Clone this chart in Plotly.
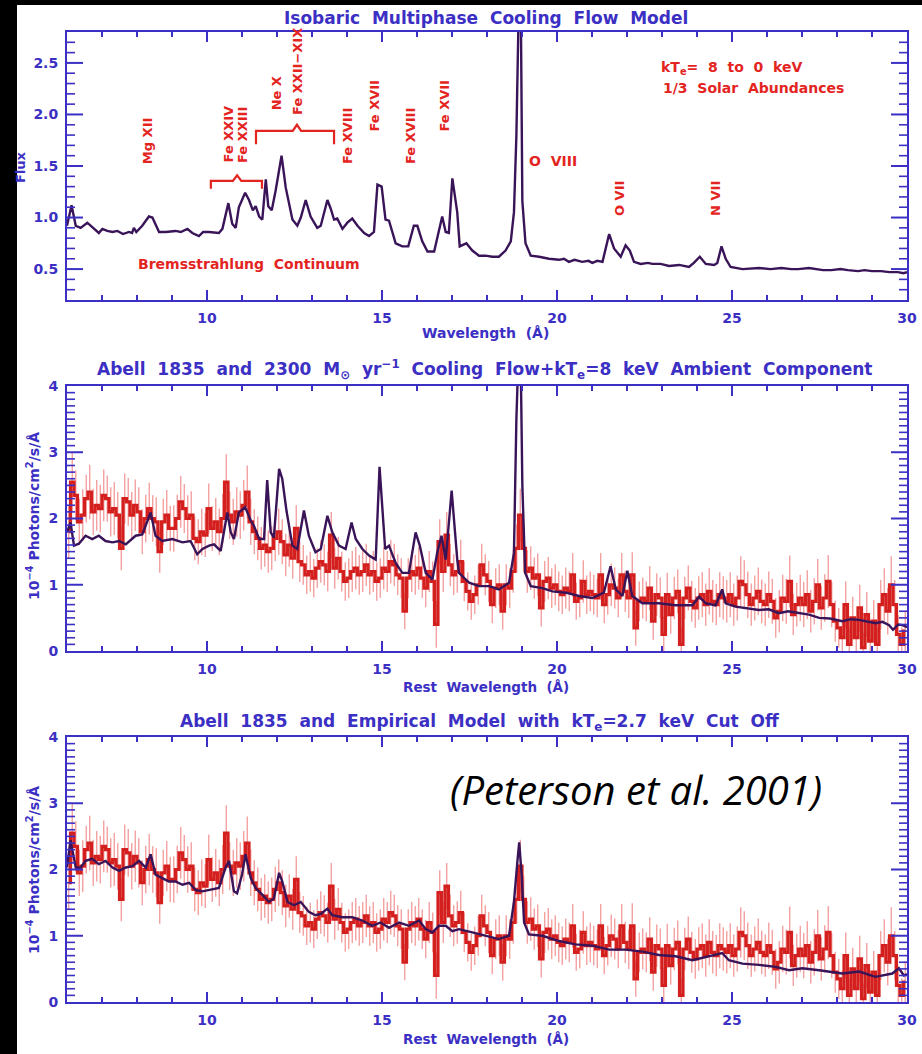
import numpy as np
import plotly.graph_objects as go

W, H = 922, 1054
BLUE = "#3b2fc4"
RED_TXT = "#e3241f"
MODEL = "#3a1458"
DATA = "#d3201e"
ERR = "#f39a9a"
FONT = "DejaVu Sans"
SP = "\u00a0"

# ---------------- data ----------------
# Panel 1: isobaric multiphase cooling-flow model (wavelength [A], flux)
model_top = [(6.00,0.92),(6.13,1.12),(6.25,0.92),(6.39,0.90),(6.58,0.95),(6.77,0.89),(6.91,0.85),(7.01,0.89),
    (7.15,0.87),(7.30,0.86),(7.44,0.87),(7.60,0.84),(7.77,0.86),(7.86,0.85),(7.91,0.90),(7.98,0.86),(8.15,0.92),
    (8.34,1.01),(8.44,1.00),(8.63,0.86),(8.82,0.86),(9.10,0.87),(9.25,0.86),(9.44,0.89),(9.58,0.85),(9.77,0.82),
    (9.89,0.86),(10.06,0.86),(10.34,0.85),(10.44,0.89),(10.61,1.14),(10.72,0.94),(10.82,0.90),(10.91,1.10),
    (11.09,1.24),(11.20,1.17),(11.31,1.07),(11.39,1.11),(11.49,1.01),(11.58,0.98),(11.68,1.37),(11.75,1.11),
    (11.85,1.07),(11.96,1.26),(12.13,1.60),(12.25,1.29),(12.44,0.98),(12.58,0.92),(12.68,1.00),(12.82,1.17),
    (12.96,1.01),(13.15,0.90),(13.25,0.92),(13.44,1.17),(13.53,1.09),(13.63,0.98),(13.72,0.99),(13.87,0.89),
    (14.01,0.95),(14.15,0.99),(14.30,0.92),(14.49,0.85),(14.63,0.82),(14.77,0.86),(14.87,1.32),(14.99,1.30),
    (15.10,0.98),(15.20,0.97),(15.39,0.75),(15.58,0.72),(15.75,0.72),(15.91,0.92),(16.01,0.92),(16.15,0.77),
    (16.30,0.67),(16.49,0.67),(16.61,0.86),(16.72,1.01),(16.82,0.86),(16.91,0.85),(17.01,1.38),(17.15,1.05),
    (17.22,0.72),(17.41,0.75),(17.58,0.68),(17.77,0.63),(17.96,0.63),(18.15,0.62),(18.34,0.62),(18.53,0.68),
    (18.68,0.77),(18.77,1.05),(18.84,1.80),(18.92,3.30),(18.96,3.30),(19.01,1.16),(19.10,0.75),(19.25,0.63),
    (19.49,0.62),(19.77,0.60),(20.06,0.59),(20.20,0.60),(20.34,0.57),(20.50,0.59),(20.72,0.57),(20.90,0.58),
    (21.01,0.56),(21.15,0.58),(21.30,0.57),(21.49,0.84),(21.63,0.70),(21.82,0.62),(21.96,0.73),(22.08,0.68),
    (22.20,0.57),(22.39,0.55),(22.60,0.56),(22.72,0.55),(22.96,0.55),(23.20,0.53),(23.49,0.54),(23.77,0.52),
    (23.91,0.56),(24.08,0.62),(24.25,0.55),(24.49,0.54),(24.58,0.56),(24.70,0.72),(24.82,0.60),(24.96,0.52),
    (25.30,0.50),(25.60,0.51),(25.77,0.51),(26.10,0.50),(26.41,0.51),(26.70,0.50),(26.89,0.50),(27.20,0.51),
    (27.36,0.50),(27.60,0.49),(27.84,0.49),(28.10,0.50),(28.31,0.49),(28.60,0.48),(28.79,0.49),(29.00,0.48),
    (29.26,0.48),(29.50,0.47),(29.74,0.47),(29.90,0.46),(30.00,0.47)]

# Panel 2: 2300 Msun/yr cooling flow + 8 keV ambient model (1e-4 ph/cm2/s/A)
model_cf = [(6.00,1.79),(6.10,1.94),(6.20,1.59),(6.34,1.62),(6.53,1.74),(6.72,1.69),(6.91,1.74),(7.10,1.66),
    (7.30,1.64),(7.49,1.66),(7.68,1.61),(7.87,1.69),(7.96,1.74),(8.15,1.76),(8.39,2.09),(8.53,1.74),(8.72,1.66),
    (9.01,1.69),(9.30,1.64),(9.53,1.66),(9.72,1.46),(9.87,1.54),(10.06,1.59),(10.20,1.61),(10.39,1.51),
    (10.58,2.09),(10.68,1.79),(10.77,1.69),(10.91,2.09),(11.09,2.17),(11.25,1.97),(11.34,1.89),(11.49,1.69),
    (11.63,1.69),(11.72,2.58),(11.82,1.79),(11.91,1.71),(12.06,2.75),(12.15,2.60),(12.27,2.12),(12.44,1.59),
    (12.58,1.54),(12.77,2.12),(12.91,1.74),(13.10,1.49),(13.25,1.54),(13.44,2.04),(13.58,1.79),(13.77,1.59),
    (13.96,1.54),(14.13,1.94),(14.25,1.69),(14.44,1.54),(14.63,1.44),(14.82,1.38),(14.93,2.78),(15.09,1.54),
    (15.20,1.59),(15.39,1.33),(15.58,1.18),(15.77,1.18),(15.96,1.79),(16.08,1.59),(16.25,1.18),(16.44,1.08),
    (16.58,1.49),(16.70,1.74),(16.82,1.38),(16.99,2.42),(17.15,1.38),(17.20,1.18),(17.49,1.03),(17.77,0.98),
    (18.06,0.98),(18.34,0.93),(18.63,1.03),(18.77,1.48),(18.84,3.51),(18.90,4.50),(18.96,4.50),(19.01,2.50),
    (19.09,1.18),(19.25,0.98),(19.58,0.95),(19.87,0.90),(20.25,0.88),(20.63,0.83),(21.01,0.80),(21.34,0.88),
    (21.53,1.28),(21.68,0.93),(21.87,0.83),(22.01,1.21),(22.15,0.83),(22.44,0.72),(22.91,0.72),(23.39,0.69),
    (23.87,0.69),(24.06,0.82),(24.25,0.72),(24.53,0.69),(24.72,0.93),(24.82,0.72),(25.10,0.67),(25.45,0.64),
    (25.77,0.62),(26.05,0.63),(26.34,0.57),(26.60,0.60),(26.91,0.57),(27.20,0.55),(27.49,0.50),(27.80,0.49),
    (28.15,0.45),(28.40,0.48),(28.63,0.47),(28.85,0.45),(29.10,0.42),(29.30,0.44),(29.49,0.39),(29.60,0.32),
    (29.75,0.40),(29.87,0.39),(30.00,0.36)]

# Panel 3: empirical model with 2.7 keV cut-off
model_emp = [(6.00,2.03),(6.10,2.44),(6.25,2.03),(6.39,2.03),(6.53,2.13),(6.72,2.16),(6.91,2.08),(7.10,2.13),
    (7.30,2.03),(7.49,1.98),(7.68,2.03),(7.87,2.05),(8.06,2.13),(8.25,2.03),(8.39,2.23),(8.53,1.92),(8.72,1.87),
    (8.91,1.82),(9.10,1.82),(9.30,1.77),(9.49,1.80),(9.68,1.69),(9.87,1.67),(10.06,1.69),(10.34,1.72),
    (10.53,2.03),(10.63,2.13),(10.77,1.67),(10.86,1.64),(11.00,1.92),(11.10,2.23),(11.25,1.87),(11.39,1.72),
    (11.58,1.62),(11.77,1.51),(11.91,1.56),(12.06,1.95),(12.15,1.82),(12.30,1.51),(12.49,1.46),(12.68,1.51),
    (12.91,1.36),(13.10,1.31),(13.25,1.33),(13.44,1.41),(13.58,1.31),(13.87,1.28),(14.15,1.28),(14.44,1.23),
    (14.72,1.15),(14.96,1.20),(15.20,1.12),(15.49,1.20),(15.77,1.15),(16.06,1.23),(16.25,1.10),(16.44,1.05),
    (16.63,1.15),(16.82,1.15),(17.01,1.07),(17.20,1.10),(17.58,1.05),(17.96,1.00),(18.34,0.95),(18.63,1.00),
    (18.77,1.51),(18.87,2.13),(18.92,2.41),(18.99,1.92),(19.06,1.20),(19.20,1.02),(19.58,1.00),(20.06,0.92),
    (20.53,0.87),(21.01,0.85),(21.49,0.79),(21.96,0.79),(22.44,0.76),(22.91,0.71),(23.39,0.69),(23.87,0.63),
    (24.34,0.69),(24.72,0.74),(24.91,0.63),(25.30,0.58),(25.77,0.56),(26.25,0.53),(26.63,0.48),(27.01,0.51),
    (27.49,0.48),(28.15,0.43),(28.63,0.46),(29.10,0.38),(29.58,0.43),(29.77,0.51),(29.91,0.40),(30.00,0.42)]

# Abell 1835 RGS spectrum, 0.1 A bins from 6.0 to 30.0 A
bin_start, bin_width = 6.0, 0.1
flux_obs = [
    1.80, 2.55, 2.35, 1.95, 2.05, 2.30, 2.40, 2.10, 2.20, 2.15,   # 6-7
    2.35, 2.30, 2.10, 2.15, 2.05, 1.55, 2.30, 2.25, 2.05, 2.20,   # 7-8
    2.10, 1.80, 2.00, 2.15, 2.00, 1.95, 1.50, 1.95, 2.05, 1.85,   # 8-9
    1.85, 2.00, 2.25, 2.15, 2.00, 2.05, 1.70, 1.65, 1.80, 1.75,   # 9-10
    2.15, 1.85, 1.95, 1.80, 2.00, 2.55, 2.05, 1.95, 2.10, 2.05,   # 10-11
    2.20, 2.40, 1.95, 1.80, 1.70, 1.55, 1.60, 1.50, 1.55, 1.70,   # 11-12
    1.80, 1.65, 1.45, 1.60, 1.40, 1.85, 1.35, 1.30, 1.15, 1.20,   # 12-13
    1.10, 1.25, 1.35, 1.30, 1.20, 1.75, 1.25, 1.40, 1.20, 1.05,   # 13-14
    1.10, 1.20, 1.25, 1.15, 1.20, 1.30, 1.15, 1.20, 1.05, 1.10,   # 14-15
    1.25, 1.20, 1.35, 1.30, 1.15, 1.10, 0.60, 1.10, 1.20, 1.15,   # 15-16
    1.25, 1.10, 0.95, 1.20, 1.05, 0.40, 1.65, 1.20, 1.75, 1.30,   # 16-17
    1.15, 1.20, 1.35, 1.05, 0.90, 0.75, 0.85, 1.00, 1.30, 1.15,   # 17-18
    1.05, 0.70, 0.95, 1.00, 0.60, 1.00, 0.95, 1.20, 1.55, 2.05,   # 18-19
    1.55, 1.20, 1.25, 1.10, 1.15, 0.65, 1.05, 1.10, 0.95, 1.00,   # 19-20
    0.90, 0.85, 0.95, 0.90, 1.15, 0.75, 0.80, 1.05, 0.85, 0.90,   # 20-21
    0.85, 0.80, 1.15, 0.70, 0.85, 1.00, 0.95, 0.80, 1.15, 0.90,   # 21-22
    0.80, 1.15, 0.35, 0.75, 0.80, 0.75, 0.95, 0.45, 0.85, 0.80,   # 22-23
    0.25, 0.85, 0.55, 0.80, 0.90, 0.10, 0.80, 0.95, 0.75, 0.65,   # 23-24
    0.80, 0.85, 0.70, 0.90, 0.75, 0.70, 0.85, 0.80, 0.75, 0.85,   # 24-25
    0.70, 0.80, 1.05, 1.00, 0.85, 0.70, 0.80, 0.90, 0.75, 0.70,   # 25-26
    0.85, 0.75, 0.50, 0.60, 0.80, 0.75, 1.05, 0.55, 0.70, 0.80,   # 26-27
    0.70, 0.85, 0.60, 0.75, 1.00, 0.65, 0.80, 1.05, 0.70, 0.45,   # 27-28
    0.35, 0.20, 0.70, 0.10, 0.50, 0.20, 0.65, 0.05, 0.55, 0.15,   # 28-29
    0.45, 0.10, 0.70, 0.85, 0.60, 1.00, 0.70, 0.25, 0.10, 0.30]   # 29-30
flux_err = [
    0.40, 0.44, 0.38, 0.35, 0.39, 0.36, 0.41, 0.35, 0.38, 0.36,
    0.39, 0.35, 0.37, 0.40, 0.35, 0.33, 0.38, 0.36, 0.35, 0.39,
    0.37, 0.34, 0.36, 0.39, 0.35, 0.37, 0.32, 0.35, 0.38, 0.34,
    0.35, 0.36, 0.39, 0.37, 0.35, 0.36, 0.33, 0.34, 0.35, 0.33,
    0.38, 0.34, 0.36, 0.35, 0.37, 0.42, 0.36, 0.35, 0.37, 0.36,
    0.38, 0.40, 0.35, 0.34, 0.33, 0.32, 0.33, 0.32, 0.33, 0.34,
    0.35, 0.34, 0.32, 0.33, 0.31, 0.35, 0.31, 0.30, 0.29, 0.30,
    0.29, 0.30, 0.32, 0.31, 0.30, 0.35, 0.31, 0.32, 0.30, 0.29,
    0.30, 0.31, 0.32, 0.30, 0.31, 0.32, 0.30, 0.31, 0.29, 0.30,
    0.32, 0.31, 0.33, 0.32, 0.31, 0.30, 0.27, 0.30, 0.31, 0.30,
    0.32, 0.30, 0.29, 0.31, 0.30, 0.35, 0.34, 0.31, 0.35, 0.32,
    0.31, 0.32, 0.33, 0.30, 0.29, 0.28, 0.29, 0.30, 0.32, 0.31,
    0.31, 0.28, 0.30, 0.31, 0.28, 0.31, 0.30, 0.32, 0.36, 0.40,
    0.36, 0.32, 0.33, 0.31, 0.32, 0.28, 0.31, 0.32, 0.30, 0.31,
    0.30, 0.29, 0.31, 0.30, 0.33, 0.28, 0.29, 0.32, 0.29, 0.30,
    0.30, 0.29, 0.33, 0.28, 0.30, 0.32, 0.31, 0.29, 0.33, 0.31,
    0.30, 0.34, 0.27, 0.30, 0.31, 0.30, 0.33, 0.28, 0.32, 0.31,
    0.27, 0.33, 0.29, 0.32, 0.33, 0.25, 0.32, 0.34, 0.31, 0.30,
    0.33, 0.34, 0.32, 0.35, 0.32, 0.31, 0.34, 0.33, 0.32, 0.34,
    0.32, 0.34, 0.38, 0.37, 0.35, 0.32, 0.34, 0.36, 0.33, 0.32,
    0.35, 0.34, 0.30, 0.32, 0.35, 0.34, 0.39, 0.31, 0.33, 0.35,
    0.34, 0.37, 0.32, 0.35, 0.39, 0.33, 0.36, 0.40, 0.34, 0.31,
    0.30, 0.27, 0.35, 0.25, 0.32, 0.27, 0.35, 0.23, 0.34, 0.26,
    0.32, 0.25, 0.37, 0.40, 0.35, 0.43, 0.37, 0.29, 0.26, 0.31]

wave_obs = bin_start + bin_width * (np.arange(len(flux_obs)) + 0.5)

# ---------------- layout helpers ----------------
def fx(px):
    return px / W

def fy(py):
    return 1 - py / H

def wide(s):
    """IDL-style wide word spacing."""
    return s.replace(" ", SP + SP)

PLOT_W = 840
PANEL_PX = [(32, 300), (386, 651), (737, 1002)]
XDOM = [fx(67), fx(67 + PLOT_W)]
YDOMS = [[fy(b), fy(t)] for t, b in PANEL_PX]
YRANGES = [[0.2, 2.8], [0, 4], [0, 4]]
YDTICK = [0.5, 1, 1]
YFMT = [".1f", "d", "d"]
XRANGE = [6, 30]

fig = go.Figure()

def unzip(pairs):
    return [p[0] for p in pairs], [p[1] for p in pairs]

# panel 1
mx, my = unzip(model_top)
fig.add_trace(go.Scatter(x=mx, y=my, mode="lines", line=dict(color=MODEL, width=2.4),
                         xaxis="x", yaxis="y", showlegend=False, hoverinfo="skip"))

# panels 2 & 3
for ax_idx, model in ((2, model_cf), (3, model_emp)):
    xa, ya = f"x{ax_idx}", f"y{ax_idx}"
    fig.add_trace(go.Scatter(x=wave_obs, y=flux_obs, mode="markers",
                             marker=dict(size=1, color="rgba(0,0,0,0)"),
                             error_y=dict(type="data", array=flux_err, color=ERR, thickness=1.3, width=0),
                             xaxis=xa, yaxis=ya, showlegend=False, hoverinfo="skip"))
    fig.add_trace(go.Scatter(x=wave_obs, y=flux_obs, mode="lines", line=dict(color=DATA, width=3.2, shape="hvh"),
                             xaxis=xa, yaxis=ya, showlegend=False, hoverinfo="skip"))
    mx, my = unzip(model)
    fig.add_trace(go.Scatter(x=mx, y=my, mode="lines", line=dict(color=MODEL, width=2.4),
                             xaxis=xa, yaxis=ya, showlegend=False, hoverinfo="skip"))

tickfont = dict(family=FONT, size=14, color=BLUE, weight="bold")

def xaxis_cfg(anchor):
    return dict(domain=XDOM, anchor=anchor, range=XRANGE, dtick=5, ticks="", showline=True,
                linecolor=BLUE, linewidth=2, mirror=True, showgrid=False, zeroline=False,
                tickfont=tickfont, ticklabelstandoff=4)

def yaxis_cfg(anchor, k):
    return dict(domain=YDOMS[k], anchor=anchor, range=YRANGES[k], dtick=YDTICK[k], ticks="",
                showline=True, linecolor=BLUE, linewidth=2, mirror=True, showgrid=False,
                zeroline=False, tickfont=tickfont, tickformat=YFMT[k], ticklabelstandoff=4)

fig.update_layout(
    xaxis=xaxis_cfg("y"), xaxis2=xaxis_cfg("y2"), xaxis3=xaxis_cfg("y3"),
    yaxis=yaxis_cfg("x", 0), yaxis2=yaxis_cfg("x2", 1), yaxis3=yaxis_cfg("x3", 2),
)

# IDL-style inward tick marks on all four sides, placed on each axis' own scale
def axis_tick_shapes(k):
    sfx = "" if k == 0 else str(k + 1)
    xref, yref = f"x{sfx}", f"y{sfx}"
    top, bottom = PANEL_PX[k]
    height = bottom - top
    out = []
    # x ticks: major every 5 A, minor every 1 A
    for i in range(XRANGE[0] + 1, XRANGE[1]):
        major = i % 5 == 0
        frac = (10 if major else 5) / height
        for y0, y1 in ((0, frac), (1, 1 - frac)):
            out.append(dict(type="line", xref=xref, yref=f"{yref} domain", x0=i, x1=i, y0=y0, y1=y1,
                            line=dict(color=BLUE, width=2), layer="above"))
    # y ticks: minor every 0.1, major every YDTICK
    lo, hi = YRANGES[k]
    step_major = int(round(YDTICK[k] * 10))
    for i in range(int(round(lo * 10)) + 1, int(round(hi * 10))):
        v = i / 10
        major = i % step_major == 0
        frac = (16 if major else 8) / PLOT_W
        for x0, x1 in ((0, frac), (1, 1 - frac)):
            out.append(dict(type="line", xref=f"{xref} domain", yref=yref, x0=x0, x1=x1, y0=v, y1=v,
                            line=dict(color=BLUE, width=2 if major else 1.6), layer="above"))
    return out

ann = []

def paper_text(text, px, py, size=15, color=BLUE, angle=0, xanchor="center", family=FONT, weight="bold",
               style="normal"):
    ann.append(dict(text=text, x=fx(px), y=fy(py), xref="paper", yref="paper", showarrow=False,
                    font=dict(family=family, size=size, color=color, weight=weight, style=style),
                    textangle=angle, xanchor=xanchor, yanchor="middle"))

paper_text(wide("Isobaric Multiphase Cooling Flow Model"), 486, 18, size=17)
paper_text(wide("Abell 1835 and 2300 M<sub>⊙</sub> yr<sup>−1</sup> Cooling Flow+kT<sub>e</sub>=8 keV Ambient Component"), 485, 369, size=17)
paper_text(wide("Abell 1835 and Empirical Model with kT<sub>e</sub>=2.7 keV Cut Off"), 479, 722, size=17)
paper_text(wide("Wavelength (Å)"), 486, 333, size=14)
paper_text(wide("Rest Wavelength (Å)"), 486, 687, size=13.5)
paper_text(wide("Rest Wavelength (Å)"), 486, 1039, size=13.5)
paper_text("Flux", 20, 167, size=13, angle=-90)
paper_text("10<sup>−4</sup> Photons/cm<sup>2</sup>/s/Å", 33, 516, size=14, angle=-90)
paper_text("10<sup>−4</sup> Photons/cm<sup>2</sup>/s/Å", 33, 870, size=14, angle=-90)
paper_text("(Peterson et al. 2001)", 636, 789, size=40, color="#000000", family="Open Sans",
           weight="normal", style="italic")

# red line labels in panel 1 (data coordinates)
def red_label(text, x, y, angle=-90, xanchor="center", yanchor="bottom", size=13):
    ann.append(dict(text=text, x=x, y=y, xref="x", yref="y", showarrow=False,
                    font=dict(family=FONT, size=size, color=RED_TXT, weight="bold"), textangle=angle,
                    xanchor=xanchor, yanchor=yanchor))

red_label("Mg XII", 8.29, 1.50)
red_label("Fe XXIV", 10.60, 1.51)
red_label("Fe XXIII", 11.03, 1.51)
red_label("Ne X", 11.97, 2.02)
red_label("Fe XXII−XIX", 12.57, 1.98)
red_label("Fe XVIII", 14.00, 1.50)
red_label("Fe XVII", 14.80, 1.81)
red_label("Fe XVIII", 15.80, 1.50)
red_label("Fe XVII", 16.80, 1.81)
red_label("O VII", 21.77, 1.00)
red_label("N VII", 24.51, 1.00)
red_label(wide("O VIII"), 19.14, 1.55, angle=0, xanchor="left", yanchor="middle", size=14)
red_label(wide("kT<sub>e</sub>= 8 to 0 keV"), 22.91, 2.45, angle=0, xanchor="left", yanchor="middle", size=14)
red_label(wide("1/3 Solar Abundances"), 22.97, 2.26, angle=0, xanchor="left", yanchor="middle", size=14)
red_label(wide("Bremsstrahlung Continuum"), 7.97, 0.55, angle=0, xanchor="left", yanchor="middle", size=14)

# curly brackets grouping blended lines (data coordinates)
def brace(x0, x1, xc, ybase, ytip, ypeak):
    return (f"M {x0},{ytip} L {x0},{ybase} L {xc - 0.12},{ybase} "
            f"L {xc},{ypeak} L {xc + 0.12},{ybase} L {x1},{ybase} L {x1},{ytip}")

shapes = [
    # black photo border (left strip and top strip)
    dict(type="rect", xref="paper", yref="paper", x0=0, x1=fx(17), y0=0, y1=1,
         fillcolor="black", line=dict(width=0), layer="above"),
    dict(type="rect", xref="paper", yref="paper", x0=0, x1=1, y0=fy(5), y1=1,
         fillcolor="black", line=dict(width=0), layer="above"),
    dict(type="path", xref="x", yref="y", path=brace(10.11, 11.57, 10.86, 1.355, 1.28, 1.41),
         line=dict(color=RED_TXT, width=2.2)),
    dict(type="path", xref="x", yref="y", path=brace(11.40, 13.63, 12.57, 1.84, 1.71, 1.90),
         line=dict(color=RED_TXT, width=2.2)),
]
for k in range(3):
    shapes.extend(axis_tick_shapes(k))

fig.update_layout(
    template="none",
    width=W, height=H, margin=dict(l=0, r=0, t=0, b=0),
    paper_bgcolor="white", plot_bgcolor="white",
    annotations=ann, shapes=shapes, showlegend=False,
)

fig.write_html("out.html")
